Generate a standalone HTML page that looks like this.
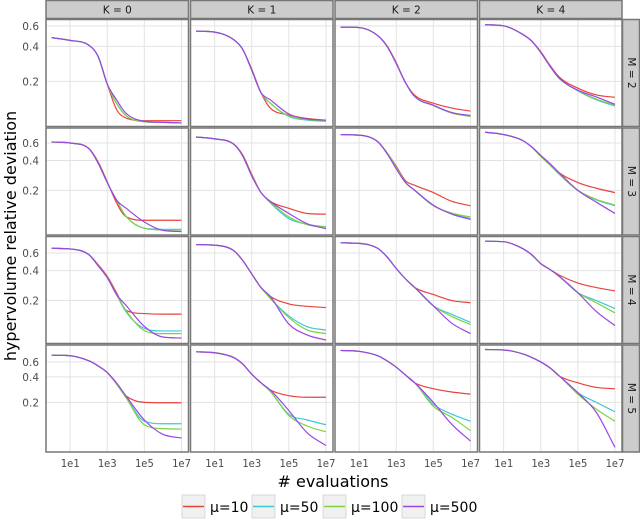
<!DOCTYPE html>
<html><head><meta charset="utf-8">
<style>
html,body{margin:0;padding:0;background:#fff;}
svg{display:block;font-family:"DejaVu Sans","Liberation Sans",sans-serif;}
</style></head>
<body>
<svg id="chart" width="640" height="519" viewBox="0 0 640 519" xmlns="http://www.w3.org/2000/svg"></svg>
<script>
// ---- data ----
const xLogs = [0,1,2,2.5,3,3.5,4,5,6,7];
const kLabels = ["K = 0","K = 1","K = 2","K = 4"];
const mLabels = ["M = 2","M = 3","M = 4","M = 5"];
const seriesNames = ["μ=10","μ=50","μ=100","μ=500"];
const seriesColors = ["#e8433b","#3cc8dc","#7fd13f","#9a45e6"];
const xTickLabels = ["1e1","1e3","1e5","1e7"];
const xTickValues = [10,1000,100000,10000000];
const yTickLabels = ["0.2","0.4","0.6"];
const yTickValues = [0.2,0.4,0.6];
const rowDomains = [[0.082,0.68],[0.071,0.85],[0.074,0.88],[0.052,0.95]];
// values[row][col][series]
const row1 = [
 [[0.475,0.45,0.41,0.33,0.19,0.115,0.097,0.092,0.092,0.092],[0.475,0.45,0.41,0.33,0.19,0.13,0.102,0.09,0.089,0.088],[0.475,0.45,0.41,0.33,0.19,0.13,0.102,0.09,0.089,0.088],[0.475,0.45,0.41,0.33,0.19,0.139,0.107,0.091,0.089,0.088]],
 [[0.54,0.53,0.46,0.38,0.255,0.16,0.118,0.103,0.096,0.093],[0.54,0.53,0.46,0.38,0.25,0.16,0.13,0.1,0.093,0.091],[0.54,0.53,0.46,0.38,0.25,0.16,0.13,0.101,0.094,0.092],[0.54,0.53,0.46,0.38,0.25,0.16,0.139,0.105,0.095,0.093]],
 [[0.585,0.58,0.495,0.405,0.29,0.195,0.152,0.13,0.118,0.111],[0.585,0.58,0.495,0.4,0.285,0.195,0.148,0.124,0.107,0.1],[0.585,0.58,0.495,0.4,0.285,0.195,0.148,0.124,0.107,0.1],[0.585,0.58,0.495,0.4,0.285,0.195,0.148,0.125,0.108,0.102]],
 [[0.613,0.6,0.51,0.446,0.36,0.275,0.218,0.175,0.153,0.146],[0.613,0.6,0.51,0.446,0.355,0.27,0.212,0.166,0.139,0.123],[0.613,0.6,0.51,0.446,0.355,0.27,0.212,0.167,0.141,0.125],[0.613,0.6,0.51,0.446,0.355,0.27,0.213,0.168,0.147,0.127]]
];
const row2 = [
 [[0.615,0.6,0.53,0.39,0.245,0.15,0.109,0.1,0.1,0.1],[0.615,0.6,0.53,0.38,0.24,0.16,0.11,0.083,0.081,0.081],[0.615,0.6,0.53,0.38,0.24,0.16,0.11,0.083,0.08,0.08],[0.615,0.6,0.53,0.38,0.24,0.16,0.133,0.096,0.079,0.077]],
 [[0.69,0.66,0.59,0.46,0.29,0.19,0.155,0.132,0.117,0.115],[0.69,0.66,0.59,0.45,0.28,0.19,0.15,0.104,0.091,0.086],[0.69,0.66,0.59,0.45,0.28,0.19,0.152,0.108,0.09,0.085],[0.69,0.66,0.59,0.45,0.28,0.19,0.155,0.117,0.092,0.082]],
 [[0.73,0.72,0.62,0.48,0.35,0.25,0.225,0.19,0.155,0.14],[0.73,0.72,0.62,0.48,0.34,0.24,0.2,0.14,0.117,0.104],[0.73,0.72,0.62,0.48,0.34,0.24,0.2,0.14,0.118,0.108],[0.73,0.72,0.62,0.47,0.33,0.24,0.2,0.142,0.115,0.102]],
 [[0.77,0.73,0.64,0.55,0.45,0.37,0.3,0.24,0.21,0.19],[0.77,0.73,0.64,0.55,0.44,0.36,0.29,0.2,0.16,0.14],[0.77,0.73,0.64,0.55,0.44,0.36,0.29,0.2,0.162,0.142],[0.77,0.73,0.64,0.55,0.45,0.37,0.3,0.2,0.152,0.117]]
];
const row3 = [
 [[0.67,0.66,0.58,0.46,0.35,0.24,0.16,0.148,0.146,0.146],[0.67,0.66,0.58,0.45,0.34,0.23,0.155,0.105,0.099,0.099],[0.67,0.66,0.58,0.45,0.34,0.23,0.16,0.1,0.093,0.093],[0.67,0.66,0.58,0.45,0.34,0.23,0.18,0.11,0.086,0.084]],
 [[0.73,0.72,0.64,0.51,0.37,0.27,0.22,0.185,0.175,0.17],[0.73,0.72,0.64,0.51,0.37,0.27,0.21,0.14,0.109,0.101],[0.73,0.72,0.64,0.51,0.37,0.27,0.21,0.135,0.101,0.093],[0.73,0.72,0.64,0.51,0.37,0.27,0.22,0.116,0.09,0.08]],
 [[0.76,0.75,0.67,0.55,0.42,0.33,0.27,0.23,0.2,0.19],[0.76,0.75,0.67,0.55,0.42,0.33,0.27,0.177,0.145,0.121],[0.76,0.75,0.67,0.55,0.42,0.33,0.27,0.177,0.138,0.115],[0.76,0.75,0.67,0.55,0.42,0.33,0.27,0.177,0.118,0.093]],
 [[0.79,0.78,0.67,0.58,0.47,0.41,0.36,0.3,0.27,0.25],[0.79,0.78,0.67,0.58,0.47,0.41,0.35,0.24,0.2,0.166],[0.79,0.78,0.67,0.58,0.47,0.41,0.35,0.24,0.19,0.15],[0.79,0.78,0.67,0.58,0.47,0.41,0.35,0.24,0.155,0.112]]
];
const row4 = [
 [[0.72,0.71,0.62,0.54,0.45,0.33,0.24,0.2,0.198,0.198],[0.72,0.71,0.62,0.54,0.45,0.33,0.23,0.12,0.112,0.112],[0.72,0.71,0.62,0.54,0.45,0.33,0.23,0.109,0.098,0.097],[0.72,0.71,0.62,0.54,0.45,0.34,0.24,0.124,0.084,0.076]],
 [[0.79,0.77,0.68,0.57,0.43,0.34,0.28,0.24,0.23,0.23],[0.79,0.77,0.68,0.57,0.43,0.34,0.27,0.145,0.124,0.109],[0.79,0.77,0.68,0.57,0.43,0.34,0.27,0.14,0.105,0.09],[0.79,0.77,0.68,0.57,0.43,0.34,0.28,0.16,0.087,0.062]],
 [[0.82,0.8,0.71,0.62,0.52,0.42,0.34,0.29,0.265,0.25],[0.82,0.8,0.71,0.62,0.52,0.42,0.34,0.19,0.145,0.12],[0.82,0.8,0.71,0.62,0.52,0.42,0.34,0.18,0.133,0.093],[0.82,0.8,0.71,0.62,0.52,0.42,0.34,0.2,0.11,0.07]],
 [[0.84,0.83,0.75,0.68,0.6,0.51,0.41,0.34,0.3,0.29],[0.84,0.83,0.75,0.68,0.6,0.51,0.41,0.26,0.2,0.155],[0.84,0.83,0.75,0.68,0.6,0.51,0.41,0.25,0.166,0.12],[0.84,0.83,0.75,0.68,0.6,0.51,0.41,0.26,0.152,0.059]]
];
const values = [row1,row2,row3,row4];

// ---- layout ----
const NS = "http://www.w3.org/2000/svg";
const svg = document.getElementById("chart");
const colLeft = [46,190.5,335,479.5], panelW = 142.5;
const rowTop = [19.5,128,236.5,345], panelH = 107;
const xDom = [-0.3,7.38];
function mk(tag, attrs, parent){
  const e = document.createElementNS(NS, tag);
  for (const k in attrs) e.setAttribute(k, attrs[k]);
  (parent||svg).appendChild(e); return e;
}
function xScale(c, lx){ return colLeft[c] + (lx - xDom[0])/(xDom[1]-xDom[0])*panelW; }
function yScale(r, v){
  const lo = Math.log10(rowDomains[r][0]), hi = Math.log10(rowDomains[r][1]);
  return rowTop[r] + (hi - Math.log10(v))/(hi-lo)*panelH;
}
// monotone cubic path through points
function smoothPath(px, py){
  const n = px.length, d = [], m = new Array(n).fill(0);
  for (let i=0;i<n-1;i++) d.push((py[i+1]-py[i])/(px[i+1]-px[i]));
  m[0]=d[0]; m[n-1]=d[n-2];
  for (let i=1;i<n-1;i++){ m[i] = (d[i-1]*d[i]<=0) ? 0 : (d[i-1]+d[i])/2; }
  for (let i=0;i<n-1;i++){
    if (d[i]===0){ m[i]=0; m[i+1]=0; continue; }
    const a=m[i]/d[i], b=m[i+1]/d[i], s=a*a+b*b;
    if (s>9){ const t=3/Math.sqrt(s); m[i]=t*a*d[i]; m[i+1]=t*b*d[i]; }
  }
  let p = "M"+px[0].toFixed(2)+","+py[0].toFixed(2);
  for (let i=0;i<n-1;i++){
    const h=(px[i+1]-px[i])/3;
    p += "C"+(px[i]+h).toFixed(2)+","+(py[i]+m[i]*h).toFixed(2)+" "+(px[i+1]-h).toFixed(2)+","+(py[i+1]-m[i+1]*h).toFixed(2)+" "+px[i+1].toFixed(2)+","+py[i+1].toFixed(2);
  }
  return p;
}

// strips (top)
for (let c=0;c<4;c++){
  const g = mk("g",{});
  
  
  mk("rect",{x:colLeft[c],y:0.5,width:panelW,height:18,fill:"#cccccc",stroke:"#777",'stroke-width':1.5},g);
  const t = mk("text",{x:colLeft[c]+panelW/2,y:13.5,'text-anchor':'middle','font-size':10.5,fill:"#1a1a1a"},g);
  t.textContent = kLabels[c];
}
// strips (right)
for (let r=0;r<4;r++){
  const g = mk("g",{});
  
  
  mk("rect",{x:622.5,y:rowTop[r],width:17,height:panelH,fill:"#cccccc",stroke:"#777",'stroke-width':1.5},g);
  const cy = rowTop[r]+panelH/2;
  const t = mk("text",{x:631,y:cy,'text-anchor':'middle','dominant-baseline':'central','font-size':10.5,fill:"#1a1a1a",transform:`rotate(90 631 ${cy})`},g);
  t.textContent = mLabels[r];
}

// panels
for (let r=0;r<4;r++){
  for (let c=0;c<4;c++){
    const g = mk("g",{});
    
    
    mk("rect",{x:colLeft[c],y:rowTop[r],width:panelW,height:panelH,fill:"#fff"},g);
    const clipId = "clip"+r+"_"+c;
    const cp = mk("clipPath",{id:clipId},g);
    mk("rect",{x:colLeft[c],y:rowTop[r],width:panelW,height:panelH},cp);
    for (let i=0;i<xTickValues.length;i++){
      const x = xScale(c, Math.log10(xTickValues[i]));
      const gl = mk("line",{x1:x,x2:x,y1:rowTop[r],y2:rowTop[r]+panelH,stroke:"#e3e3e3",'stroke-width':1},g);
      
      
    }
    for (let i=0;i<yTickValues.length;i++){
      const y = yScale(r, yTickValues[i]);
      const gl = mk("line",{x1:colLeft[c],x2:colLeft[c]+panelW,y1:y,y2:y,stroke:"#e3e3e3",'stroke-width':1},g);
      
      
    }
    const lg = mk("g",{'clip-path':`url(#${clipId})`},g);
    for (let s=0;s<4;s++){
      const vals = values[r][c][s];
      const px = xLogs.map(l => xScale(c, l));
      const py = vals.map(v => yScale(r, v));
      const p = mk("path",{d:smoothPath(px,py),fill:"none",stroke:seriesColors[s],'stroke-width':1.2,'stroke-linejoin':'round'},lg);
      
      
    }
    mk("rect",{x:colLeft[c],y:rowTop[r],width:panelW,height:panelH,fill:"none",stroke:"#777",'stroke-width':1.5},g);
  }
  for (let i=0;i<yTickValues.length;i++){
    const t = mk("text",{x:39,y:yScale(r,yTickValues[i])+4,'text-anchor':'end','font-size':10.5,fill:"#4d4d4d"});
    
    
    t.textContent = yTickLabels[i];
  }
}
for (let c=0;c<4;c++){
  for (let i=0;i<xTickValues.length;i++){
    const t = mk("text",{x:xScale(c,Math.log10(xTickValues[i])),y:467,'text-anchor':'middle','font-size':10.5,fill:"#4d4d4d",'font-family':'"DejaVu Sans Mono","Liberation Mono",monospace'});
    
    
    t.textContent = xTickLabels[i];
  }
}
const xt = mk("text",{x:333,y:487,'text-anchor':'middle','font-size':16,fill:"#000"});


xt.textContent = "# evaluations";
const yt = mk("text",{x:16,y:236,'text-anchor':'middle','font-size':16,fill:"#000",transform:"rotate(-90 16 236)"});


yt.textContent = "hypervolume relative deviation";
const legendX = [182,252,323,402];
for (let s=0;s<4;s++){
  const g = mk("g",{});
  
  
  mk("rect",{x:legendX[s],y:495,width:23,height:23,fill:"#f0f0f0",stroke:"#d8d8d8",'stroke-width':1},g);
  mk("line",{x1:legendX[s]+1,x2:legendX[s]+22,y1:506.5,y2:506.5,stroke:seriesColors[s],'stroke-width':1.5},g);
  const t = mk("text",{x:legendX[s]+28,y:512,'font-size':14,fill:"#000"},g);
  t.textContent = seriesNames[s];
}
</script>
</body></html>
